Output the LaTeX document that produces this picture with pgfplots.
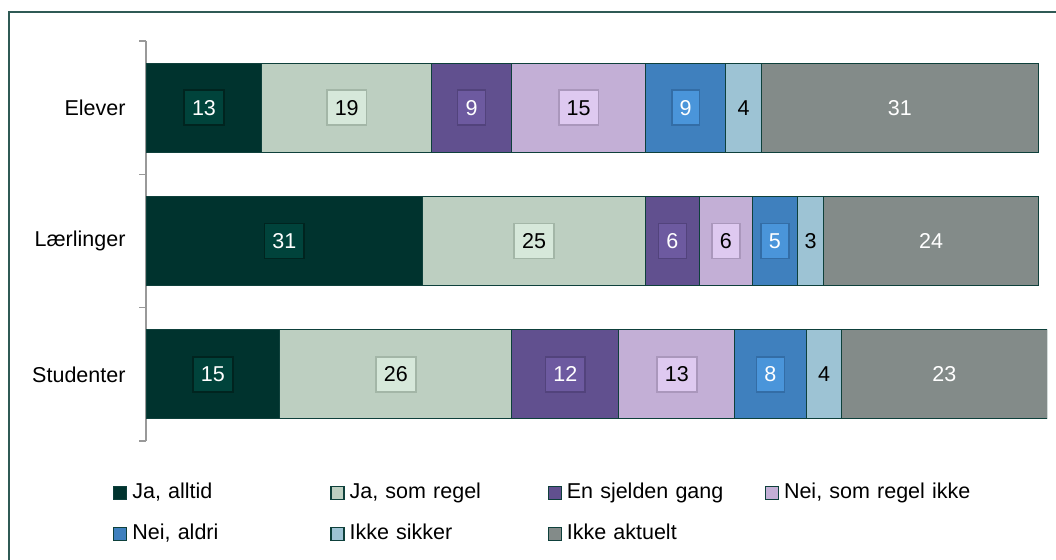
\documentclass[border=0pt]{standalone}
\usepackage{pgfplots}
\pgfplotsset{compat=1.18}
\usepackage{pgfplotstable}
\usepackage{fontspec}
\setmainfont{Liberation Sans}
\definecolor{cA}{HTML}{00332E}
\definecolor{cAb}{HTML}{00433B}
\definecolor{cAd}{HTML}{00241F}
\definecolor{cB}{HTML}{BDCFC1}
\definecolor{cBb}{HTML}{D6E8DA}
\definecolor{cBd}{HTML}{A3B6A7}
\definecolor{cC}{HTML}{61508F}
\definecolor{cCb}{HTML}{6D5AA0}
\definecolor{cCd}{HTML}{52437C}
\definecolor{cD}{HTML}{C3AFD6}
\definecolor{cDb}{HTML}{DEC9F0}
\definecolor{cDd}{HTML}{AA97BC}
\definecolor{cE}{HTML}{3F80BE}
\definecolor{cEb}{HTML}{4A95DA}
\definecolor{cEd}{HTML}{336DA6}
\definecolor{cF}{HTML}{9DC3D4}
\definecolor{cG}{HTML}{838B89}
\definecolor{cBorder}{HTML}{0E403B}
\definecolor{cFrame}{HTML}{2F5A55}
\pgfplotstableread{
cat alltid somregel sjelden ikkeregel aldri usikker aktuelt
0 13 19 9 15 9 4 31
1 31 25 6 6 5 3 24
2 15 26 12 13 8 4 23
}\data
\pgfplotsset{
  seg/.style={fill=#1, draw=cBorder, line width=1bp},
  boxed/.style n args={3}{nodes near coords,
    nodes near coords style={anchor=center,
      fill=#1, draw=#2, line width=1.6bp, text=#3, inner xsep=8bp, inner ysep=0bp,
      minimum height=35bp, text height=15bp, text depth=0bp}},
  plain/.style={nodes near coords,
    nodes near coords style={anchor=center, text=#1, draw=none, fill=none}},
}
\begin{document}
\begin{tikzpicture}[x=1bp,y=1bp]
\useasboundingbox (0,0) rectangle (1056,560);
\draw[cFrame, line width=1.5bp] (9,-5) -- (9,548) -- (1060,548);
\begin{axis}[
  at={(146bp,119bp)}, anchor=south west,
  scale only axis, width=901bp, height=400bp,
  font=\fontsize{21.5bp}{25bp}\selectfont,
  /pgf/number format/assume math mode=true,
  xbar stacked, bar width=89bp,
  xmin=0, xmax=101, ymin=-0.5, ymax=2.5, y dir=reverse,
  axis x line=none, axis y line*=left,
  y axis line style={draw=gray!80, line width=1.3bp},
  ytick={0,1,2}, yticklabels={Elever,Lærlinger,Studenter},
  minor ytick={-0.5,0.5,1.5,2.5},
  major tick length=0pt, minor tick length=7bp, tick align=outside,
  minor tick style={draw=gray!80, line width=1.3bp},
  yticklabel style={xshift=-17bp},
  point meta=explicit,
  legend columns=4, legend cell align=left,
  legend image code/.code={\draw[#1, draw=cBorder, line width=1.2bp] (0bp,-6.5bp) rectangle (13bp,6.5bp);},
  legend style={draw=none, fill=none, inner sep=0pt, at={(axis description cs:0,0)}, anchor=north west,
    xshift=-33bp, yshift=-39bp, row sep=15bp, column sep=0pt,
    nodes={text width=193bp, inner xsep=5bp, inner ysep=3bp, text height=15bp, text depth=5bp, align=left},
    font=\fontsize{21.5bp}{25bp}\selectfont},
]
\addplot[seg=cA, boxed={cAb}{cAd}{white}] table[x=alltid, y=cat, meta=alltid] {\data};
\addplot[seg=cB, boxed={cBb}{cBd}{black}] table[x=somregel, y=cat, meta=somregel] {\data};
\addplot[seg=cC, boxed={cCb}{cCd}{white}] table[x=sjelden, y=cat, meta=sjelden] {\data};
\addplot[seg=cD, boxed={cDb}{cDd}{black}] table[x=ikkeregel, y=cat, meta=ikkeregel] {\data};
\addplot[seg=cE, boxed={cEb}{cEd}{white}] table[x=aldri, y=cat, meta=aldri] {\data};
\addplot[seg=cF, plain=black] table[x=usikker, y=cat, meta=usikker] {\data};
\addplot[seg=cG, plain=white] table[x=aktuelt, y=cat, meta=aktuelt] {\data};
\legend{{Ja, alltid}, {Ja, som regel}, En sjelden gang, {Nei, som regel ikke}, {Nei, aldri}, Ikke sikker, Ikke aktuelt}
\end{axis}
\end{tikzpicture}
\end{document}
